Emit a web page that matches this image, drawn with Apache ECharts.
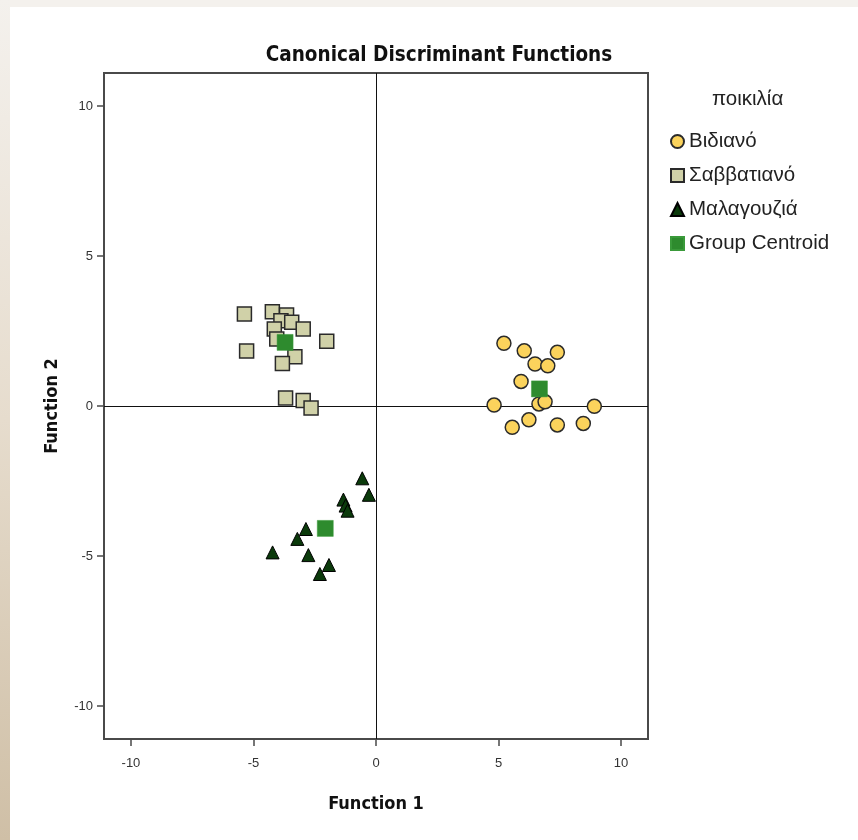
<!DOCTYPE html>
<html>
<head>
<meta charset="utf-8">
<script src="https://cdn.jsdelivr.net/npm/echarts@6/dist/echarts.min.js"></script>
<style>
  html, body { margin: 0; padding: 0; background: #ffffff; }
  #wrap { position: relative; width: 858px; height: 840px; background: #ffffff; overflow: hidden; }
  #topstrip { position: absolute; left: 0; top: 0; width: 858px; height: 7px; background: #f4f1ed; }
  #leftstrip { position: absolute; left: 0; top: 0; width: 10px; height: 840px;
    background: linear-gradient(to bottom, #f4f1ed 0%, #e6dccd 50%, #cfbfa6 100%); }
  #chart { position: absolute; left: 0; top: 0; width: 858px; height: 840px; }
</style>
</head>
<body>
<div id="wrap">
  <div id="chart"></div>
  <div id="topstrip"></div>
  <div id="leftstrip"></div>
</div>
<script>
// ---- data ----
const chartTitle = 'Canonical Discriminant Functions';
const xAxisName = 'Function 1';
const yAxisName = 'Function 2';
const legendTitle = 'ποικιλία';
const seriesNames = ['Βιδιανό', 'Σαββατιανό', 'Μαλαγουζιά', 'Group Centroid'];
const tickValues = [-10, -5, 0, 5, 10];

const vidiano = [
  [5.22, 2.09], [6.05, 1.84], [7.40, 1.79], [6.49, 1.40], [7.01, 1.34],
  [5.92, 0.82], [4.82, 0.03], [6.65, 0.07], [6.90, 0.14], [8.91, -0.01],
  [5.56, -0.71], [6.24, -0.46], [7.40, -0.63], [8.46, -0.58]
];
const savvatiano = [
  [-5.37, 3.07], [-4.23, 3.14], [-3.65, 3.03], [-3.88, 2.84], [-3.44, 2.79],
  [-2.97, 2.57], [-4.15, 2.57], [-4.05, 2.23], [-2.01, 2.16], [-5.28, 1.83],
  [-3.31, 1.64], [-3.82, 1.42], [-3.69, 0.27], [-2.97, 0.18], [-2.65, -0.07]
];
const malagouzia = [
  [-0.56, -2.41], [-0.29, -2.96], [-1.33, -3.12], [-1.24, -3.32], [-1.16, -3.49],
  [-2.86, -4.10], [-3.21, -4.43], [-4.22, -4.88], [-2.76, -4.97], [-1.92, -5.30],
  [-2.29, -5.60]
];
const centroids = [[6.67, 0.57], [-3.71, 2.12], [-2.07, -4.08]];

// ---- chart ----
const chart = echarts.init(document.getElementById('chart'), null, { renderer: 'canvas' });
const narrow = '"Liberation Sans Narrow", "DejaVu Sans Condensed", Arial, sans-serif';
const sans = '"Liberation Sans", Arial, sans-serif';
const frame = '#4a4a4a';

const option = {
  backgroundColor: '#ffffff',
  animation: false,
  title: {
    text: chartTitle,
    left: 434, top: 40, textAlign: 'center',
    textStyle: { fontFamily: narrow, fontWeight: 'bold', fontSize: 20.5, color: '#111' }
  },
  graphic: [{
    type: 'text', left: 712, top: 89,
    style: { text: legendTitle, font: '20.5px ' + sans, fill: '#222' }
  }],
  legend: {
    orient: 'vertical', left: 665, top: 126,
    itemWidth: 13, itemHeight: 13, itemGap: 13,
    textStyle: { fontFamily: sans, fontSize: 20.5, color: '#222', lineHeight: 20 },
    data: [
      { name: seriesNames[0], icon: 'circle' },
      { name: seriesNames[1], icon: 'rect' },
      { name: seriesNames[2], icon: 'triangle' },
      { name: seriesNames[3], icon: 'rect' }
    ]
  },
  grid: {
    left: 104, top: 73, width: 544, height: 666,
    show: true, borderColor: frame, borderWidth: 2, backgroundColor: '#ffffff'
  },
  xAxis: {
    type: 'value', min: -11.1, max: 11.1,
    name: xAxisName, nameLocation: 'middle', nameGap: 56,
    nameTextStyle: { fontFamily: narrow, fontWeight: 'bold', fontSize: 18, color: '#111' },
    axisLine: { show: true, onZero: false, lineStyle: { color: frame, width: 2 } },
    axisTick: { show: true, inside: false, length: 7, customValues: tickValues, lineStyle: { color: frame, width: 1.5 } },
    axisLabel: { customValues: tickValues, margin: 18, fontFamily: sans, fontSize: 13, color: '#333' },
    splitLine: { show: false }
  },
  yAxis: {
    type: 'value', min: -11.1, max: 11.1,
    name: yAxisName, nameLocation: 'middle', nameGap: 43, nameRotate: 90,
    nameTextStyle: { fontFamily: narrow, fontWeight: 'bold', fontSize: 18, color: '#111' },
    axisLine: { show: true, onZero: false, lineStyle: { color: frame, width: 2 } },
    axisTick: { show: true, inside: false, length: 7, customValues: tickValues, lineStyle: { color: frame, width: 1.5 } },
    axisLabel: { customValues: tickValues, margin: 11, fontFamily: sans, fontSize: 13, color: '#333' },
    splitLine: { show: false }
  },
  series: [
    {
      name: seriesNames[0], type: 'scatter', symbol: 'circle', symbolSize: 14, z: 3,
      itemStyle: { color: '#fbd35c', borderColor: '#2a2a2a', borderWidth: 1.5, opacity: 1 },
      data: vidiano,
      markLine: {
        silent: true, symbol: ['none', 'none'], label: { show: false },
        lineStyle: { color: '#111', width: 1, type: 'solid' },
        data: [{ xAxis: 0 }, { yAxis: 0 }], z: 1
      }
    },
    {
      name: seriesNames[1], type: 'scatter', symbol: 'rect', symbolSize: 14, z: 3,
      itemStyle: { color: '#d0d1a8', borderColor: '#2a2a2a', borderWidth: 1.5, opacity: 1 },
      data: savvatiano
    },
    {
      name: seriesNames[2], type: 'scatter', symbol: 'triangle', symbolSize: 13, z: 3,
      itemStyle: { color: '#0b3a0b', borderColor: '#000', borderWidth: 1, opacity: 1 },
      data: malagouzia
    },
    {
      name: seriesNames[3], type: 'scatter', symbol: 'rect', symbolSize: 16, z: 4,
      itemStyle: { color: '#2e8b2e', borderColor: '#3a9a3a', borderWidth: 0.5, opacity: 1 },
      data: centroids
    }
  ]
};
chart.setOption(option);
</script>
</body>
</html>
